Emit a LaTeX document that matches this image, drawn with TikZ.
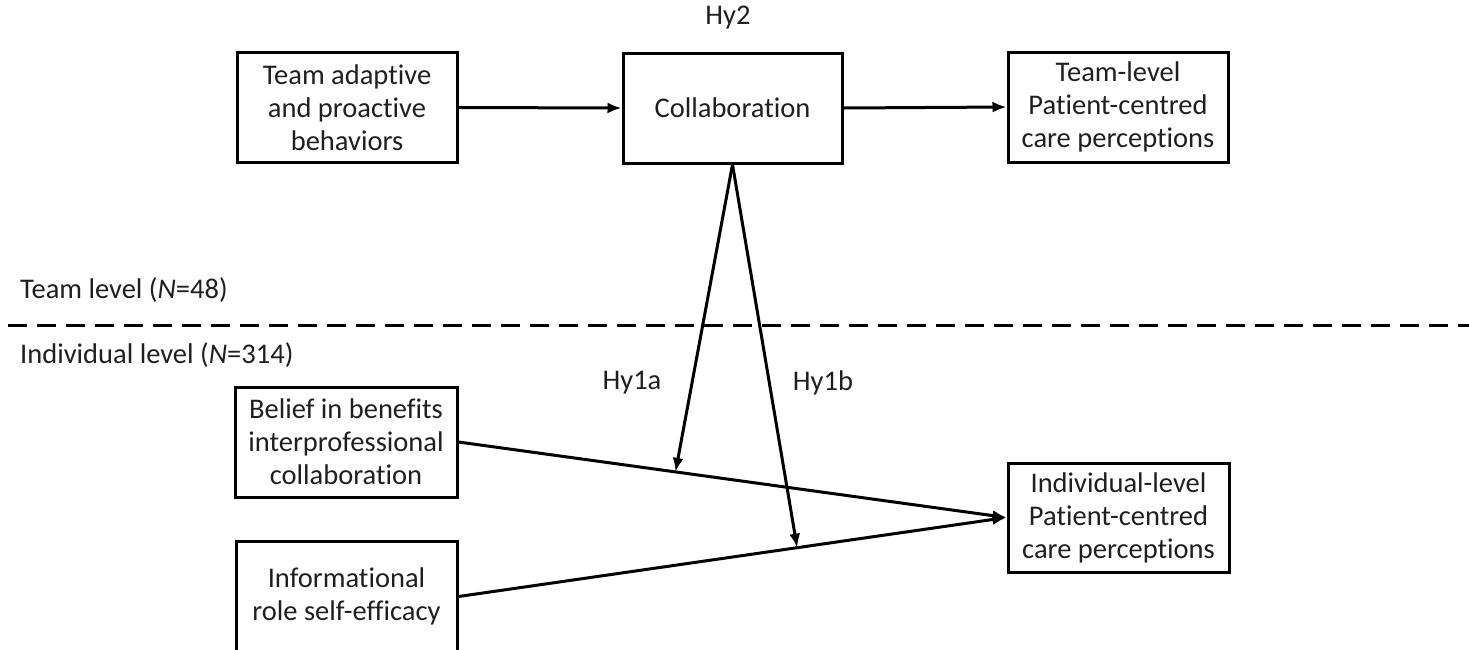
\documentclass[tikz,border=0pt]{standalone}
\usepackage{fontspec}
\setmainfont[Ligatures=NoCommon]{Carlito}
\usetikzlibrary{arrows.meta,calc}
\begin{document}
\begin{tikzpicture}[x=1pt,y=-1pt,
  box/.style={draw=black,line width=3pt,minimum width=220pt,minimum height=110pt,align=center,inner sep=0pt,text=black!88,font=\fontsize{28.5pt}{33pt}\selectfont},
  lbl/.style={text=black!88,font=\fontsize{28.5pt}{33pt}\selectfont,inner sep=0pt},
  conn/.style={line width=3pt,-{Latex[length=14pt,width=11pt]}},
  plain/.style={line width=3pt}]
\clip (0,0) rectangle (1469,649);
\useasboundingbox (0,0) rectangle (1469,649);
\node[box] (tap) at (347,107.5) {Team adaptive\\and proactive\\behaviors};
\node[box,minimum width=219pt] (col) at (732.5,108) {Collaboration};
\node[box] (tpc) at (1118,107) {Team-level\\Patient-centred\\care perceptions};
\node[box,minimum width=222pt] (bel) at (346,442) {Belief in benefits\\interprofessional\\collaboration};
\node[box,minimum width=221pt,minimum height=109pt] (ipc) at (1118.5,517.5) {Individual-level\\Patient-centred\\care perceptions};
\node[box,minimum width=221pt] (inf) at (346.5,596.5) {Informational\\role self-efficacy};
\node[lbl] (hy2) at (728,18) {Hy2};
\node[lbl] (hy1a) at (632,383) {Hy1a};
\node[lbl] (hy1b) at (823,383) {Hy1b};
\node[lbl,anchor=west] (tl) at (20,290) {Team level (\textit{N}=48)};
\node[lbl,anchor=west] (il) at (20,355) {Individual level (\textit{N}=314)};
\coordinate (dl) at (8,325);
\coordinate (dr) at (1469,325);
\draw[line width=3pt,dash pattern=on 19pt off 10pt] (dl) -- (dr);
\draw[conn] (tap.east) -- (col.west);
\draw[conn] (col.east) -- (tpc.west);
\draw[conn] (bel.east) -- (ipc.west);
\draw[conn] (inf.east) -- (ipc.west);
\path (bel.east) -- (ipc.west) coordinate[pos=0.396] (m1);
\path (inf.east) -- (ipc.west) coordinate[pos=0.618] (m2);
\draw[conn] (col.south) -- (m1);
\draw[conn] (col.south) -- (m2);
\end{tikzpicture}
\end{document}
